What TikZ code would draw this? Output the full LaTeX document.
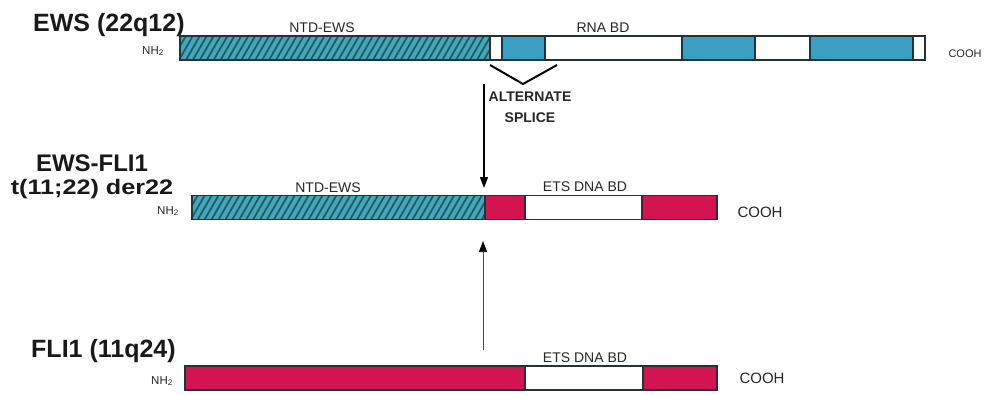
\documentclass[tikz,border=0pt]{standalone}
\usepackage{fontspec}
\setmainfont{Liberation Sans}
\usetikzlibrary{patterns.meta,arrows.meta}
\definecolor{ewsblue}{HTML}{3A9FC2}
\definecolor{hatchbase}{HTML}{45A6B8}
\definecolor{hatchline}{HTML}{1D5866}
\definecolor{flired}{HTML}{D41450}
\definecolor{outl}{HTML}{263238}
\tikzset{
  seg/.style={draw=outl, line width=1.6pt, anchor=west, minimum height=24pt, inner sep=0pt, outer sep=0pt},
  hatchseg/.style={seg, preaction={fill=hatchbase}, pattern={Lines[angle=60,distance=6pt,line width=1.7pt]}, pattern color=hatchline},
  blueseg/.style={seg, fill=ewsblue},
  whiteseg/.style={seg, fill=white},
  redseg/.style={seg, fill=flired},
  title/.style={font=\bfseries\fontsize{25}{27}\selectfont, inner sep=0pt, text=black!90},
  lab/.style={font=\fontsize{14}{15}\selectfont, inner sep=0pt, text=black!85},
  small/.style={font=\fontsize{11.5}{12}\selectfont, inner sep=0pt, text=black!85},
  cooh/.style={font=\fontsize{15}{16}\selectfont, inner sep=0pt, text=black!85},
  splice/.style={font=\bfseries\fontsize{14}{15}\selectfont, inner sep=0pt, text=black!85},
  arr/.style={line width=1.3pt, -{Triangle[length=11pt,width=8pt]}},
}
\begin{document}
\begin{tikzpicture}[x=1pt,y=-1pt]
\useasboundingbox (0,0) rectangle (994,394);
% ---------------- EWS ----------------
\node[title, anchor=base west] (tews) at (33,31) {EWS (22q12)};
\node[hatchseg, minimum width=310pt] (e1) at (180,48) {};
\node[whiteseg, minimum width=12pt] (e2) at (490,48) {};
\node[blueseg, minimum width=43pt] (e3) at (502,48) {};
\node[whiteseg, minimum width=137pt] (e4) at (545,48) {};
\node[blueseg, minimum width=73pt] (e5) at (682,48) {};
\node[whiteseg, minimum width=55pt] (e6) at (755,48) {};
\node[blueseg, minimum width=103pt] (e7) at (810,48) {};
\node[whiteseg, minimum width=12pt] (e8) at (913,48) {};
\node[lab] (ntd1) at (322,28) {NTD-EWS};
\node[lab] (rna) at (603,28) {RNA BD};
\node[small] (nh1) at (153,51) {NH\textsubscript{2}};
\node[font=\fontsize{11}{12}\selectfont, inner sep=0pt, text=black!85] (c1) at (965,54) {COOH};
% alternate splice
\coordinate (v1) at (490,65);
\coordinate (v2) at (523,84);
\coordinate (v3) at (557,65);
\draw[line width=2pt, line join=round] (v1) -- (v2) -- (v3);
\node[splice] (alt) at (530,97) {ALTERNATE};
\node[splice] (spl) at (530,118) {SPLICE};
\coordinate (a1) at (484,84);
\coordinate (a2) at (484,188);
\draw[arr] (a1) -- (a2);
% ---------------- EWS-FLI1 ----------------
\node[title, anchor=base, font=\bfseries\fontsize{24}{26}\selectfont] (tf1) at (92,171) {EWS-FLI1};
\node[title, anchor=base, font=\bfseries\fontsize{21}{23}\selectfont, xscale=1.2] (tf2) at (92,194) {t(11;22) der22};
\node[hatchseg, minimum width=293pt] (f1) at (192,207.5) {};
\node[redseg, minimum width=40pt] (f2) at (485,207.5) {};
\node[whiteseg, minimum width=117pt] (f3) at (525,207.5) {};
\node[redseg, minimum width=75pt] (f4) at (642,207.5) {};
\node[lab] (ntd2) at (328,188) {NTD-EWS};
\node[lab] (ets1) at (585,187) {ETS DNA BD};
\node[small] (nh2) at (168,211) {NH\textsubscript{2}};
\node[cooh] (c2) at (760,212) {COOH};
% up arrow
\coordinate (b1) at (483,350);
\coordinate (b2) at (483,241);
\draw[line width=0.6pt, draw=black!70, -{Triangle[length=11pt,width=8pt,fill=black,color=black]}] (b1) -- (b2);
% ---------------- FLI1 ----------------
\node[title, anchor=base west] (tfl) at (31,357) {FLI1 (11q24)};
\node[redseg, minimum width=340pt] (g1) at (185,378) {};
\node[whiteseg, minimum width=118pt] (g2) at (525,378) {};
\node[redseg, minimum width=74pt] (g3) at (643,378) {};
\node[lab] (ets2) at (585,358) {ETS DNA BD};
\node[small] (nh3) at (162,381) {NH\textsubscript{2}};
\node[cooh] (c3) at (762,378) {COOH};
\end{tikzpicture}
\end{document}
